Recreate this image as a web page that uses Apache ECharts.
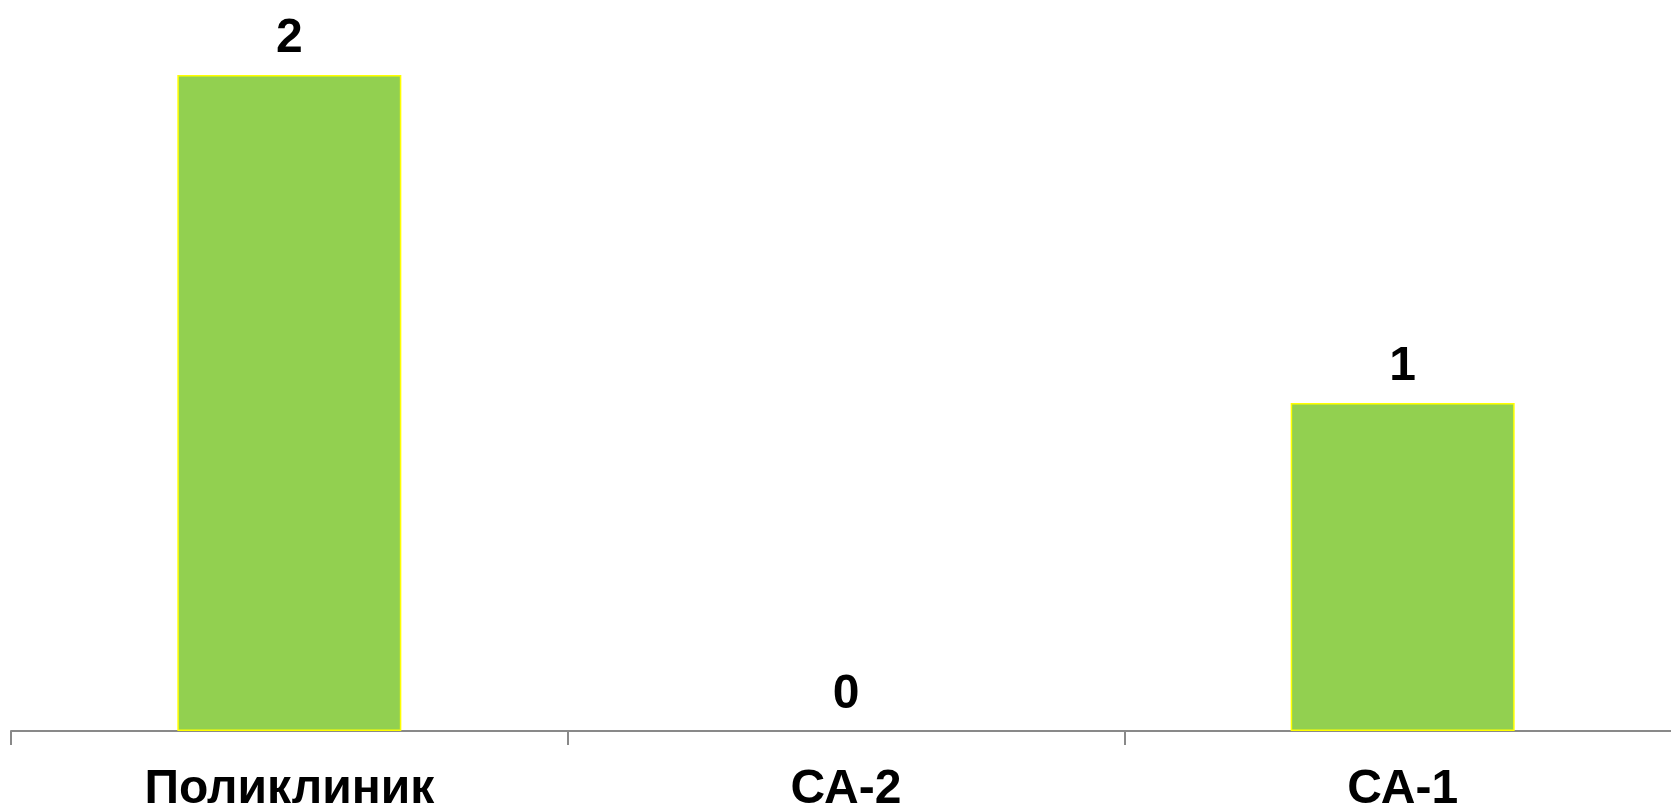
<!DOCTYPE html>
<html>
<head>
<meta charset="utf-8">
<script src="https://cdn.jsdelivr.net/npm/echarts@6/dist/echarts.min.js"></script>
<style>
html,body{margin:0;padding:0;background:#fff;}
#chart{width:1671px;height:810px;}
</style>
</head>
<body>
<div id="chart"></div>
<script>
const categories = ['Поликлиник', 'СА-2', 'СА-1'];
const values = [2, 0, 1];

const chart = echarts.init(document.getElementById('chart'));
chart.setOption({
  animation: false,
  backgroundColor: '#ffffff',
  grid: { left: 11, top: 75, right: -10, bottom: 79, containLabel: false, outerBoundsMode: 'none' },
  xAxis: {
    type: 'category',
    data: categories,
    axisLine: { lineStyle: { color: '#898989', width: 2 } },
    axisTick: { show: true, length: 14, lineStyle: { color: '#898989', width: 2 } },
    axisLabel: {
      interval: 0,
      margin: 35,
      color: '#000',
      fontFamily: 'Liberation Sans, Arial, sans-serif',
      fontWeight: 'bold',
      fontSize: 48
    }
  },
  yAxis: {
    type: 'value', min: 0, max: 2, show: false,
    splitLine: { show: false }
  },
  series: [{
    type: 'bar',
    data: values.map(v => ({ value: v, itemStyle: { borderWidth: v === 0 ? 0 : 1.5 } })),
    barWidth: 224,
    itemStyle: { color: '#92D050', borderColor: '#FFFF00', borderWidth: 1.5 },
    label: {
      show: true,
      position: 'top',
      distance: 12,
      color: '#000',
      fontFamily: 'Liberation Sans, Arial, sans-serif',
      fontWeight: 'bold',
      fontSize: 48
    }
  }]
});
</script>
</body>
</html>
